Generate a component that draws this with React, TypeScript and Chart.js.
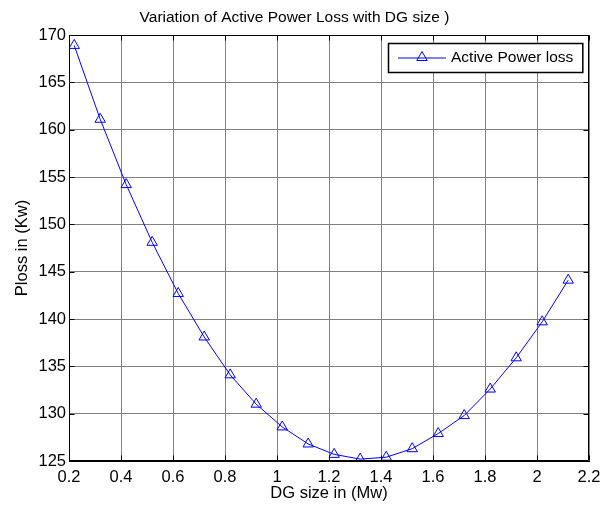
import React, { useEffect, useRef } from "react";
import { Chart, registerables } from "chart.js";

Chart.register(...registerables);

// ---- data ----
const dgSize = [0.22, 0.32, 0.42, 0.52, 0.62, 0.72, 0.82, 0.92, 1.02, 1.12, 1.22, 1.32, 1.42, 1.52, 1.62, 1.72, 1.82, 1.92, 2.02, 2.12];
const pLoss = [168.9, 161.1, 154.2, 148.1, 142.7, 138.1, 134.1, 131.0, 128.6, 126.8, 125.7, 125.2, 125.4, 126.3, 127.9, 129.8, 132.6, 135.9, 139.7, 144.1];
const xTicks = [0.2, 0.4, 0.6, 0.8, 1.0, 1.2, 1.4, 1.6, 1.8, 2.0, 2.2];
const xTickLabels = ["0.2", "0.4", "0.6", "0.8", "1", "1.2", "1.4", "1.6", "1.8", "2", "2.2"];
const yTicks = [125, 130, 135, 140, 145, 150, 155, 160, 165, 170];
const yTickLabels = ["125", "130", "135", "140", "145", "150", "155", "160", "165", "170"];
const seriesLabel = "Active Power loss";
const chartTitle = "Variation of Active Power Loss with DG size )";
const xTitle = "DG size in (Mw)";
const yTitle = "Ploss in (Kw)";

const FONT = '"Liberation Sans", Arial, Helvetica, sans-serif';
const BLUE = "#0000ff";
const MARKER_R = 6;

const framePlugin = {
  id: "matlabFrame",
  afterDraw(chart: any) {
    const { ctx, chartArea, scales } = chart;
    const { left, right, top, bottom } = chartArea;
    ctx.save();
    ctx.strokeStyle = "#000";
    ctx.lineWidth = 1;
    const L = Math.round(left) + 0.5;
    const R = Math.round(right) - 0.5;
    const T = Math.round(top) + 0.5;
    const B = Math.round(bottom) - 0.5;
    ctx.beginPath();
    ctx.rect(L, T, R - L, B - T);
    ctx.stroke();
    // inner tick marks
    ctx.beginPath();
    const tl = 5;
    xTicks.forEach((v) => {
      const px = Math.round(scales.x.getPixelForValue(v)) + 0.5;
      ctx.moveTo(px, B);
      ctx.lineTo(px, B - tl);
      ctx.moveTo(px, T);
      ctx.lineTo(px, T + tl);
    });
    yTicks.forEach((v) => {
      const py = Math.round(scales.y.getPixelForValue(v)) + 0.5;
      ctx.moveTo(L, py);
      ctx.lineTo(L + tl, py);
      ctx.moveTo(R, py);
      ctx.lineTo(R - tl, py);
    });
    ctx.stroke();

    // legend box (inside plot, top-right)
    const ds = chart.data.datasets[0];
    ctx.font = `15.5px ${FONT}`;
    const textW = ctx.measureText(ds.label).width;
    const lineLen = 48;
    const boxH = 29;
    const boxW = 10 + lineLen + 5 + textW + 9;
    const bx = Math.round(right - 7 - boxW);
    const by = Math.round(top + 8);
    ctx.fillStyle = "#fff";
    ctx.fillRect(bx, by, boxW, boxH);
    ctx.lineWidth = 1.5;
    ctx.strokeStyle = "#000";
    ctx.strokeRect(bx + 0.5, by + 0.5, boxW, boxH);
    const cy = by + boxH / 2;
    const lx0 = bx + 10;
    ctx.lineWidth = 1;
    ctx.strokeStyle = BLUE;
    ctx.beginPath();
    ctx.moveTo(lx0, cy + 0.5);
    ctx.lineTo(lx0 + lineLen, cy + 0.5);
    ctx.stroke();
    // triangle marker
    const mx = lx0 + lineLen / 2;
    ctx.beginPath();
    for (let i = 0; i < 3; i++) {
      const a = (i * 2 * Math.PI) / 3;
      const px = mx + Math.sin(a) * MARKER_R;
      const py = cy - Math.cos(a) * MARKER_R;
      if (i === 0) ctx.moveTo(px, py);
      else ctx.lineTo(px, py);
    }
    ctx.closePath();
    ctx.stroke();
    ctx.fillStyle = "#000";
    ctx.textBaseline = "middle";
    ctx.textAlign = "left";
    ctx.fillText(ds.label, lx0 + lineLen + 5, cy + 0.5);
    ctx.restore();
  },
};

export default function App() {
  const ref = useRef<HTMLCanvasElement | null>(null);

  useEffect(() => {
    if (!ref.current) return;
    const chart = new Chart(ref.current, {
      type: "line",
      data: {
        datasets: [
          {
            label: seriesLabel,
            data: dgSize.map((x, i) => ({ x, y: pLoss[i] })),
            borderColor: BLUE,
            borderWidth: 1,
            backgroundColor: "rgba(0,0,0,0)",
            pointStyle: "triangle",
            pointRadius: MARKER_R,
            pointBorderWidth: 1,
            pointBorderColor: BLUE,
            pointBackgroundColor: "rgba(0,0,0,0)",
            tension: 0,
            fill: false,
          },
        ],
      },
      options: {
        animation: false,
        responsive: false,
        devicePixelRatio: 1,
        layout: { padding: { left: 0, right: 21, top: 0, bottom: 0 } },
        plugins: {
          legend: { display: false },
          tooltip: { enabled: false },
          title: {
            display: true,
            text: chartTitle,
            color: "#000",
            font: { family: FONT, size: 15.5, weight: "normal", lineHeight: 1.2 },
            padding: { top: 8.5, bottom: 7.9 },
          },
        },
        scales: {
          x: {
            type: "linear",
            min: 0.2,
            max: 2.2,
            afterBuildTicks: (s: any) => {
              s.ticks = xTicks.map((v) => ({ value: v }));
            },
            afterFit: (s: any) => {
              s.height = 45;
            },
            ticks: {
              color: "#000",
              font: { family: FONT, size: 16.5 },
              padding: 7,
              maxRotation: 0,
              autoSkip: false,
              callback: (_v: any, i: number) => xTickLabels[i],
            },
            grid: { color: "#808080", lineWidth: 1, drawTicks: false },
            border: { display: true, color: "#000" },
            title: {
              display: true,
              text: xTitle,
              color: "#000",
              font: { family: FONT, size: 16.5, lineHeight: 1.2 },
              padding: { top: 0, bottom: 3 },
            },
          },
          y: {
            type: "linear",
            min: 125,
            max: 170,
            afterBuildTicks: (s: any) => {
              s.ticks = yTicks.map((v) => ({ value: v }));
            },
            afterFit: (s: any) => {
              s.width = 69;
            },
            ticks: {
              color: "#000",
              font: { family: FONT, size: 16.5 },
              padding: 3,
              autoSkip: false,
              callback: (_v: any, i: number) => yTickLabels[i],
            },
            grid: { color: "#808080", lineWidth: 1, drawTicks: false },
            border: { display: true, color: "#000" },
            title: {
              display: true,
              text: yTitle,
              color: "#000",
              font: { family: FONT, size: 16.5, lineHeight: 1.2 },
              padding: { top: 13, bottom: 0 },
            },
          },
        },
      },
      plugins: [framePlugin],
    });
    return () => chart.destroy();
  }, []);

  return (
    <div style={{ position: "absolute", left: 0, top: 0, width: 610, height: 506, background: "#fff" }}>
      <canvas ref={ref} width={610} height={506} style={{ display: "block", width: 610, height: 506 }} />
    </div>
  );
}
